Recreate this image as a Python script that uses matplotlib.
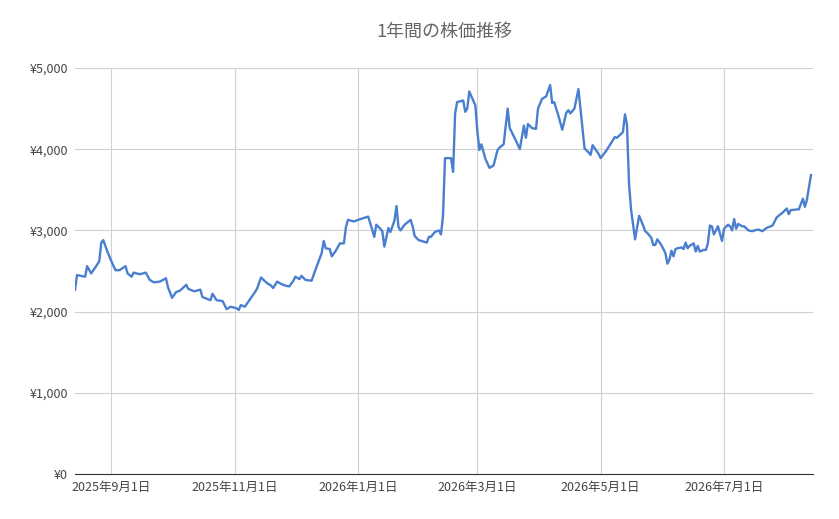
import datetime as dt
import matplotlib.pyplot as plt
import matplotlib.dates as mdates
from matplotlib.ticker import FuncFormatter

plt.rcParams['font.family'] = ['Noto Sans CJK JP', 'DejaVu Sans']

# データ
start = dt.date(2025, 8, 14)
days = [0, 1, 5, 6, 8, 11, 12, 13, 14, 16, 18, 20, 22, 25, 26, 28, 29, 32, 35, 37,
        39, 42, 45, 46, 48, 50, 52, 55, 56, 59, 62, 63, 66, 67, 68, 70, 73, 75, 77, 80,
        81, 82, 84, 89, 90, 92, 95, 97, 98, 100, 102, 104, 106, 108, 109, 111, 112, 114, 117, 119,
        122, 123, 124, 126, 127, 129, 131, 133, 134, 135, 138, 140, 145, 147, 148, 149, 151, 152, 153, 155,
        156, 158, 159, 160, 161, 163, 166, 167, 168, 170, 174, 175, 176, 178, 180, 181, 182, 183, 186, 187,
        188, 189, 192, 193, 194, 195, 198, 199, 200, 201, 203, 205, 207, 209, 210, 212, 214, 215, 218, 220,
        222, 223, 224, 226, 228, 229, 231, 233, 235, 236, 237, 239, 241, 243, 244, 245, 247, 249, 250, 252,
        254, 255, 256, 259, 260, 263, 266, 267, 268, 271, 272, 273, 274, 275, 277, 279, 281, 282, 283, 285,
        286, 287, 288, 290, 292, 293, 294, 295, 296, 297, 298, 300, 301, 302, 303, 304, 306, 307, 308, 309,
        311, 312, 313, 314, 315, 316, 318, 320, 321, 323, 324, 325, 326, 327, 328, 330, 331, 333, 335, 336,
        338, 340, 342, 345, 347, 350, 352, 353, 354, 358, 360, 361, 362, 364]
prices = [2270, 2450, 2430, 2560, 2470, 2580, 2620, 2850, 2880, 2740, 2620, 2510, 2510, 2560, 2470, 2430, 2480, 2460, 2480, 2390,
          2360, 2370, 2410, 2300, 2170, 2240, 2260, 2330, 2280, 2250, 2270, 2180, 2150, 2140, 2220, 2140, 2130, 2030, 2060, 2040,
          2020, 2080, 2060, 2240, 2280, 2420, 2350, 2320, 2290, 2370, 2340, 2320, 2310, 2380, 2430, 2400, 2440, 2390, 2380, 2520,
          2720, 2870, 2780, 2770, 2680, 2750, 2840, 2840, 3040, 3130, 3110, 3130, 3170, 3010, 2920, 3070, 3020, 2990, 2800, 3030,
          2980, 3120, 3300, 3040, 3000, 3070, 3130, 3050, 2930, 2880, 2850, 2920, 2920, 2980, 3000, 2950, 3180, 3890, 3890, 3720,
          4440, 4580, 4600, 4460, 4500, 4710, 4540, 4220, 3990, 4060, 3880, 3770, 3800, 3990, 4020, 4060, 4500, 4260, 4110, 4000,
          4290, 4140, 4310, 4260, 4250, 4500, 4620, 4650, 4790, 4570, 4580, 4420, 4240, 4450, 4480, 4440, 4500, 4740, 4500, 4010,
          3960, 3930, 4050, 3940, 3890, 3990, 4110, 4150, 4140, 4210, 4430, 4300, 3580, 3260, 2890, 3180, 3060, 2990, 2970, 2910,
          2820, 2820, 2890, 2820, 2720, 2590, 2640, 2750, 2680, 2770, 2780, 2790, 2770, 2850, 2780, 2810, 2840, 2740, 2810, 2740,
          2760, 2760, 2840, 3060, 3050, 2950, 3050, 2870, 3020, 3070, 3050, 3000, 3140, 3020, 3080, 3050, 3050, 3000, 2990, 3000,
          3010, 2990, 3030, 3060, 3160, 3220, 3270, 3200, 3250, 3260, 3390, 3290, 3380, 3680]
dates = [start + dt.timedelta(days=d) for d in days]
tick_dates = [dt.date(2025, 9, 1), dt.date(2025, 11, 1), dt.date(2026, 1, 1),
              dt.date(2026, 3, 1), dt.date(2026, 5, 1), dt.date(2026, 7, 1)]

fig = plt.figure(figsize=(8.39, 5.19), dpi=100)
ax = fig.add_axes([75/839, 45/519, 738/839, 406/519])
ax.plot(dates, prices, color='#4a7fd0', lw=1.7)

ax.set_xlim(start, start + dt.timedelta(days=365))
ax.set_ylim(0, 5000)
ax.set_yticks(range(0, 5001, 1000))
ax.yaxis.set_major_formatter(FuncFormatter(lambda v, p: f'¥{int(v):,}'))
ax.set_xticks(tick_dates)
ax.xaxis.set_major_formatter(FuncFormatter(
    lambda v, p: '{0.year}年{0.month}月{0.day}日'.format(mdates.num2date(v))))
ax.grid(True, color='#d0d0d0', lw=0.8)
ax.set_axisbelow(True)
for s in ['top', 'right', 'left']:
    ax.spines[s].set_visible(False)
ax.spines['bottom'].set_color('#333333')
ax.tick_params(length=0, labelsize=9, colors='#444444', pad=5)
ax.set_title('1年間の株価推移', fontsize=13, color='#666666', pad=22)

fig.savefig('out.png')
